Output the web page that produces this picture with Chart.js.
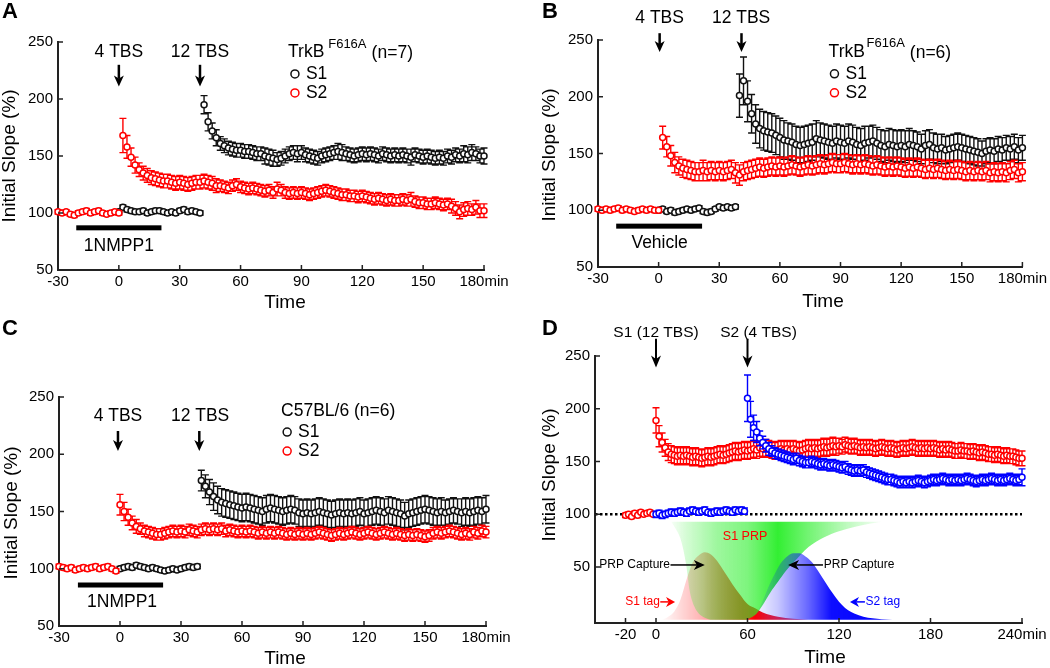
<!DOCTYPE html>
<html lang="en">
<head>
<meta charset="UTF-8" />
<title>Initial slope after TBS</title>
<script src="https://cdn.jsdelivr.net/npm/chart.js@4.4.1/dist/chart.umd.min.js"></script>
<style>
  body { margin: 0; background: #fff; }
  #wrap { position: relative; width: 1050px; height: 668px; }
  #wrap canvas { position: absolute; }
</style>
</head>
<body>
<div id="wrap">
  <canvas id="chartA" width="525" height="316" style="left:0;top:0"></canvas>
  <canvas id="chartB" width="525" height="316" style="left:525px;top:0"></canvas>
  <canvas id="chartC" width="525" height="352" style="left:0;top:316px"></canvas>
  <canvas id="chartD" width="525" height="352" style="left:525px;top:316px"></canvas>
</div>

<script>
// sampling interval of all traces, in min
const sampleMin = 2;

// ---- A: TrkB F616A + 1NMPP1 ----
const aS2Start = -30;
const aS2 = [
  101,100,101,99,98,100,101,102,100,101,
  102,100,99,100,101,100,168,158,149,142,
  138,135,133,131,130,129,128,128,127,126,
  127,126,125,126,127,127,128,127,126,124,
  124,123,122,124,125,123,122,121,122,121,
  120,119,120,118,121,120,118,117,118,117,
  118,117,116,117,118,119,120,119,118,117,
  116,116,115,115,114,115,114,113,112,113,
  112,111,112,111,111,112,111,112,110,109,
  109,108,108,109,108,107,108,106,104,101,
  103,104,103,105,102,102];
const aS2Err = [
  2,2,2,2,2,2,2,2,2,2,
  2,2,2,2,2,2,15,10,8,7,
  6,6,6,6,6,6,6,6,6,6,
  6,6,6,6,6,6,6,6,6,6,
  5,5,5,5,5,5,5,5,5,5,
  5,5,5,5,6,5,5,5,5,5,
  5,5,5,5,5,5,5,5,5,5,
  5,5,5,5,5,5,5,5,5,5,
  5,5,5,5,5,5,5,6,5,5,
  5,5,5,5,5,5,5,6,6,6,
  6,6,5,6,6,6];
const aS1Start = 0;
const aS1 = [
  101,105,103,102,101,101,102,100,101,102,
  102,101,100,101,100,102,103,101,102,101,
  100,195,180,172,166,161,159,157,156,155,
  155,154,154,153,152,152,150,149,148,147,
  148,150,152,153,152,153,151,150,149,148,
  150,151,152,153,154,153,152,151,150,151,
  152,151,152,151,150,152,151,150,151,150,
  151,150,149,151,150,149,150,149,148,149,
  148,150,149,151,150,152,151,153,152,150,
  150];
const aS1Err = [
  2,2,2,2,2,2,2,2,2,2,
  2,2,2,2,2,2,2,2,2,2,
  2,8,8,7,7,6,6,6,6,6,
  6,6,6,6,6,6,7,7,7,6,
  6,6,6,6,7,6,6,6,6,6,
  6,6,6,6,7,7,6,6,6,6,
  6,6,6,6,6,6,6,6,6,6,
  6,6,7,6,6,6,6,6,6,6,
  6,6,6,6,6,7,7,7,6,6,
  7];

// ---- B: TrkB F616A + vehicle ----
const bS2Start = -30;
const bS2 = [
  101,100,101,100,101,102,100,101,100,99,
  100,101,100,101,100,100,164,156,148,142,
  139,137,136,135,134,134,135,134,135,134,
  135,134,135,136,133,131,134,135,136,137,
  138,137,138,139,138,139,138,139,140,139,
  138,139,140,139,140,141,140,141,142,141,
  141,142,141,140,141,140,141,140,139,140,
  139,138,139,138,139,138,137,138,137,138,
  137,136,137,136,137,136,135,136,135,136,
  135,134,135,134,135,134,135,133,134,133,
  134,133,135,136,133,134];
const bS2Err = [
  2,2,2,2,2,2,2,2,2,2,
  2,2,2,2,2,2,10,9,9,9,
  8,8,8,8,8,8,9,8,8,8,
  8,8,8,8,9,9,8,8,8,8,
  8,8,8,8,8,8,8,8,8,8,
  8,8,8,8,8,8,8,8,8,8,
  8,8,8,8,8,8,8,8,8,8,
  8,8,8,8,8,8,8,8,8,8,
  8,8,8,8,8,8,8,8,8,8,
  8,8,8,8,8,8,8,8,8,8,
  8,8,8,8,8,8];
const bS1Start = 0;
const bS1 = [
  100,101,99,100,98,99,100,101,100,101,
  102,99,98,99,101,103,102,103,102,103,
  201,214,196,185,176,172,170,169,168,166,
  164,162,161,160,158,157,158,159,160,163,
  162,161,160,159,161,160,159,161,160,158,
  157,159,160,161,159,157,156,158,157,156,
  157,156,158,157,156,154,157,158,155,154,
  155,153,154,155,156,155,154,153,152,151,
  150,152,153,152,154,153,155,154,156,153,
  155];
const bS1Err = [
  2,2,2,2,2,2,2,2,2,2,
  2,2,2,2,2,2,2,2,2,2,
  19,21,18,17,17,17,17,17,17,17,
  17,17,16,16,16,16,16,16,16,16,
  15,15,15,15,15,15,15,15,15,15,
  15,15,14,14,14,14,14,14,14,14,
  14,14,14,13,13,13,13,13,13,13,
  12,12,12,12,12,12,12,12,12,12,
  11,11,11,11,11,11,11,11,11,11,
  11];

// ---- C: C57BL/6 + 1NMPP1 ----
const cS2Start = -30;
const cS2 = [
  102,101,100,101,99,100,101,100,101,102,
  100,101,102,100,98,156,150,145,140,137,
  135,133,132,131,130,130,131,132,133,132,
  133,132,134,133,132,134,135,134,135,134,
  135,133,134,133,132,133,132,133,132,131,
  132,131,132,131,132,131,130,131,130,131,
  130,131,130,131,132,131,130,129,130,131,
  130,131,132,131,130,131,132,131,130,131,
  132,131,130,131,130,129,130,129,130,129,
  128,129,131,132,131,132,133,132,131,130,
  131,130,132,131,133,132];
const cS2Err = [
  2,2,2,2,2,2,2,2,2,2,
  2,2,2,2,2,9,8,7,6,6,
  5,5,5,5,5,5,5,5,5,5,
  5,5,5,5,5,5,5,5,5,5,
  5,5,5,5,5,5,5,5,5,5,
  5,5,5,5,5,5,5,5,5,5,
  5,5,5,5,5,5,5,5,5,5,
  5,5,5,5,5,5,5,5,5,5,
  5,5,5,5,5,5,5,5,5,5,
  5,5,5,5,5,5,5,5,5,5,
  5,5,5,5,5,5];
const cS1Start = 0;
const cS1 = [
  100,101,102,101,103,102,101,100,101,100,
  99,98,99,100,99,100,101,102,101,102,
  177,172,167,163,160,158,157,156,155,154,
  153,154,153,152,151,150,152,153,152,151,
  150,151,152,151,149,148,149,148,149,150,
  149,148,147,148,149,148,149,148,149,150,
  148,149,150,151,150,149,151,150,149,148,
  146,148,149,150,151,152,151,150,149,150,
  149,150,151,150,149,150,149,150,151,150,
  152];
const cS1Err = [
  2,2,2,2,2,2,2,2,2,2,
  2,2,2,2,2,2,2,2,2,2,
  9,10,11,12,12,12,12,12,12,12,
  12,12,12,12,12,12,12,12,12,12,
  12,12,12,12,12,12,12,12,12,12,
  12,12,12,12,12,12,12,12,12,12,
  12,12,12,12,12,12,12,12,12,12,
  12,12,12,12,12,12,12,12,12,12,
  11,11,11,11,12,12,12,12,12,12,
  12];

// ---- D: S1 12 TBS, S2 4 TBS, no drug ----
const dS1Start = -20;
const dS1 = [
  99,100,98,101,99,102,100,101,102,100,
  189,174,168,163,159,157,156,155,156,155,
  156,155,154,155,154,153,154,155,154,155,
  156,157,156,157,158,159,160,159,160,161,
  160,161,162,161,163,162,163,162,161,160,
  161,162,161,162,161,162,161,160,161,162,
  163,162,163,162,163,164,163,164,165,164,
  165,164,166,165,164,165,164,163,164,163,
  164,163,162,163,164,163,162,163,162,161,
  162,163,162,163,164,163,162,163,162,163,
  162,163,162,161,162,161,162,161,160,160,
  161,160,160,159,160,159,158,159,158,157,
  157,156,157,156,155,156,155,155,154,153,
  153];
const dS1Err = [
  2,2,2,2,2,2,2,2,2,2,
  12,10,9,8,8,8,8,8,8,8,
  8,8,8,8,8,8,8,8,8,8,
  8,8,8,8,8,8,8,8,8,8,
  8,8,8,8,8,8,8,8,8,8,
  8,8,8,8,8,8,8,8,8,8,
  8,8,8,8,8,8,8,8,8,8,
  7,7,7,7,7,7,7,7,7,7,
  7,7,7,7,7,7,7,7,7,7,
  7,7,7,7,7,7,7,7,7,7,
  7,7,7,7,7,7,7,7,7,7,
  7,7,7,7,7,7,7,7,7,7,
  7,7,7,7,7,7,7,7,7,7,
  7];
const dS2Start = 0;
const dS2 = [
  100,101,99,100,101,102,101,102,103,102,
  101,103,104,103,102,103,104,102,101,102,
  103,102,103,104,103,102,104,103,104,103,
  210,190,182,178,172,168,165,162,160,158,
  157,156,155,154,153,152,153,151,150,149,
  149,150,149,148,147,148,147,146,147,146,
  145,144,145,143,142,141,142,141,142,140,
  139,138,137,136,135,134,133,133,132,131,
  130,131,130,131,130,131,132,131,130,131,
  132,133,132,133,134,133,132,133,132,133,
  132,133,134,133,132,131,132,133,132,133,
  134,133,132,133,132,133,134,133,132,133,
  135];
const dS2Err = [
  3,3,3,3,3,3,3,3,3,3,
  3,3,3,3,3,3,3,3,3,3,
  3,3,3,3,3,3,3,3,3,3,
  22,17,12,10,7,6,6,6,5,5,
  5,5,5,5,5,5,5,5,5,5,
  5,5,5,5,5,5,5,5,5,5,
  5,5,5,5,5,5,5,5,5,5,
  5,5,5,5,5,5,5,5,5,5,
  5,5,5,5,5,5,5,5,5,5,
  5,5,5,5,5,5,5,5,5,5,
  5,5,5,5,5,5,5,5,5,5,
  5,5,5,5,5,5,5,5,5,5,
  8];
const dBaseline = 100;

// schematic curves in D (time in min, value in % units)
const prpTimes = [10,13,16,18,20,22,25,28,32,37,45,52,58,62,66,70,75,80,85,90,95,100,110,120,130,140,148];
const prpLower = [93,86,77,66,50,28,13,6,2,0,0,0,0,2,6,14,26,36,46,54,62,69,78,84,88,91,93];
const prpUpper = [93,93,93,93,93,93,93,93,93,93,93,93,93,93,93,93,93,93,93,93,93,93,93,93,93,93,93];
const tagS1Times = [4,8,12,16,20,24,28,32,36,40,45,50,55,60,65,70,80,90,100];
const tagS1 = [0,3,8,19,38,54,61,64,62,56,45,34,24,15,11,7,3,1,0];
const tagS2Times = [62,66,70,74,78,82,86,90,94,98,102,106,110,114,118,122,126,130,136,142,148,155];
const tagS2 = [0,6,18,32,44,54,60,63,63,60,55,47,38,29,21,14,9,6,3,1.5,0.5,0];

const xTicksABC = [-30, 0, 30, 60, 90, 120, 150, 180];
const xTicksD = [-20, 0, 60, 120, 180, 240];
const yTicks = [50, 100, 150, 200, 250];

const RED = '#ff0000', BLUE = '#0000ff', BLACK = '#111111', AXIS = '#222222';
const FAMILY = '"Liberation Sans", Arial, Helvetica, sans-serif';
const font = (size, bold) => (bold ? 'bold ' : '') + size + 'px ' + FAMILY;

function trace(start, vals) {
  return vals.map((v, i) => ({ x: start + i * sampleMin, y: v }));
}
function curve(times, vals) {
  return vals.map((v, i) => ({ x: times[i], y: v }));
}

function pointSet(color, start, vals, errs) {
  return {
    data: trace(start, vals),
    errors: errs,
    showLine: false,
    clip: false,
    borderColor: color,
    backgroundColor: '#fff',
    pointBackgroundColor: '#fff',
    pointBorderColor: color,
    pointBorderWidth: 1.5,
    pointRadius: 3,
    pointHoverRadius: 3
  };
}

// horizontal gradient fill built on the x scale
function hGradient(stops, rgb) {
  return (context) => {
    const { chart } = context;
    const { ctx, chartArea, scales } = chart;
    if (!chartArea) return 'rgba(' + rgb + ',0.5)';
    const t0 = stops[0][0], t1 = stops[stops.length - 1][0];
    const g = ctx.createLinearGradient(scales.x.getPixelForValue(t0), 0, scales.x.getPixelForValue(t1), 0);
    stops.forEach(([t, a]) => g.addColorStop((t - t0) / (t1 - t0), 'rgba(' + rgb + ',' + a + ')'));
    return g;
  };
}

function arrow(ctx, x1, y1, x2, y2, color, lw, len, half) {
  const ang = Math.atan2(y2 - y1, x2 - x1);
  const c = Math.cos(ang), s = Math.sin(ang);
  ctx.strokeStyle = color;
  ctx.fillStyle = color;
  ctx.lineWidth = lw;
  ctx.beginPath();
  ctx.moveTo(x1, y1);
  ctx.lineTo(x2 - c * len * 0.7, y2 - s * len * 0.7);
  ctx.stroke();
  const bx = x2 - c * len, by = y2 - s * len;
  ctx.beginPath();
  ctx.moveTo(x2, y2);
  ctx.lineTo(bx - s * half, by + c * half);
  ctx.lineTo(x2 - c * len * 0.72, y2 - s * len * 0.72);
  ctx.lineTo(bx + s * half, by - c * half);
  ctx.closePath();
  ctx.fill();
}

function decor(spec) {
  return {
    id: 'decor',
    beforeDatasetDraw(chart, args) {
      const ds = chart.data.datasets[args.index];
      if (!ds.errors) return;
      const { ctx, scales: { x, y } } = chart;
      ctx.save();
      ctx.strokeStyle = ds.borderColor;
      ctx.lineWidth = 1.4;
      ctx.beginPath();
      ds.data.forEach((p, i) => {
        const e = ds.errors[i] || 0;
        const px = x.getPixelForValue(p.x);
        const hi = y.getPixelForValue(p.y + e);
        const lo = y.getPixelForValue(p.y - e);
        ctx.moveTo(px, hi); ctx.lineTo(px, lo);
        ctx.moveTo(px - 3.5, hi); ctx.lineTo(px + 3.5, hi);
        ctx.moveTo(px - 3.5, lo); ctx.lineTo(px + 3.5, lo);
      });
      ctx.stroke();
      ctx.restore();
    },
    afterDraw(chart) {
      const { ctx, chartArea: a, scales: { x, y } } = chart;
      const X = (t) => x.getPixelForValue(t);
      const Y = (v) => y.getPixelForValue(v);
      ctx.save();

      // inward tick marks
      ctx.strokeStyle = AXIS;
      ctx.lineWidth = 1.5;
      ctx.beginPath();
      x.ticks.forEach((tk) => { const px = X(tk.value); ctx.moveTo(px, a.bottom); ctx.lineTo(px, a.bottom - 5); });
      y.ticks.forEach((tk) => { const py = Y(tk.value); ctx.moveTo(a.left, py); ctx.lineTo(a.left + 5, py); });
      ctx.stroke();

      ctx.textBaseline = 'middle';
      ctx.fillStyle = '#000';

      // panel letter
      ctx.font = font(22, true);
      ctx.textAlign = 'left';
      ctx.fillText(spec.letter.text, spec.letter.x, spec.letter.y);

      // axis titles
      ctx.font = font(19);
      ctx.textAlign = 'center';
      ctx.fillText('Time', spec.xTitle.x, spec.xTitle.y);
      ctx.save();
      ctx.translate(spec.yTitle.x, spec.yTitle.y);
      ctx.rotate(-Math.PI / 2);
      ctx.fillText('Initial Slope (%)', 0, 0);
      ctx.restore();

      (spec.bars || []).forEach((b) => {
        ctx.fillStyle = '#000';
        ctx.fillRect(X(b.t1), Y(b.v) - 2.5, X(b.t2) - X(b.t1), 5);
      });

      (spec.markers || []).forEach((m) => {
        ctx.beginPath();
        ctx.arc(X(m.t), Y(m.v), 4, 0, Math.PI * 2);
        ctx.fillStyle = '#fff';
        ctx.fill();
        ctx.lineWidth = 1.5;
        ctx.strokeStyle = m.color;
        ctx.stroke();
      });

      (spec.texts || []).forEach((tx) => {
        ctx.font = font(tx.size || 17.5);
        ctx.textAlign = tx.align || 'center';
        ctx.fillStyle = tx.color || '#000';
        ctx.fillText(tx.text, X(tx.t), Y(tx.v));
      });

      (spec.downArrows || []).forEach((d) => {
        arrow(ctx, X(d.t), Y(d.v1), X(d.t), Y(d.v2), '#000', d.lw || 2.5, d.len || 11, 5);
      });

      (spec.sideArrows || []).forEach((h) => {
        arrow(ctx, X(h.t1), Y(h.v), X(h.t2), Y(h.v), h.color, 1.5, h.len || 11, 5);
      });

      ctx.restore();
    }
  };
}

function buildChart(id, spec) {
  const canvas = document.getElementById(id);
  const W = canvas.width, H = canvas.height, a = spec.area;
  const tickFont = { family: FAMILY, size: 15 };
  return new Chart(canvas, {
    type: 'line',
    data: { datasets: spec.datasets },
    options: {
      responsive: false,
      animation: false,
      devicePixelRatio: 1,
      events: [],
      layout: { padding: { top: a.top, right: W - a.right, left: 0, bottom: 0 } },
      plugins: { legend: { display: false }, tooltip: { enabled: false } },
      scales: {
        x: {
          type: 'linear',
          min: spec.xMin,
          max: spec.xMax,
          afterFit: (s) => { s.height = H - a.bottom; },
          afterBuildTicks: (s) => { s.ticks = spec.xTicks.map((v) => ({ value: v })); },
          grid: { display: false, drawTicks: false },
          border: { color: AXIS, width: 2 },
          ticks: {
            padding: 3, color: '#000', font: tickFont, maxRotation: 0, autoSkip: false,
            callback: (v) => (v === spec.xMax ? v + 'min' : String(v))
          }
        },
        y: {
          type: 'linear',
          min: spec.yMin,
          max: 250,
          afterFit: (s) => { s.width = a.left; },
          afterBuildTicks: (s) => { s.ticks = yTicks.map((v) => ({ value: v })); },
          grid: { display: false, drawTicks: false },
          border: { color: AXIS, width: 2 },
          ticks: { padding: 5, color: '#000', font: tickFont }
        }
      }
    },
    plugins: [decor(spec)]
  });
}

buildChart('chartA', {
  area: { left: 58, right: 484, top: 42, bottom: 270 },
  xMin: -30, xMax: 180, yMin: 50, xTicks: xTicksABC,
  datasets: [pointSet(RED, aS2Start, aS2, aS2Err), pointSet(BLACK, aS1Start, aS1, aS1Err)],
  letter: { text: 'A', x: 2, y: 12 },
  xTitle: { x: 285, y: 303 },
  yTitle: { x: 10, y: 156 },
  texts: [
    { text: '4 TBS', t: 0, v: 241 },
    { text: '12 TBS', t: 40, v: 241 },
    { text: 'TrkB', t: 83.4, v: 240.8, align: 'left' },
    { text: 'F616A', t: 103.2, v: 248.2, align: 'left', size: 13 },
    { text: '(n=7)', t: 124.6, v: 240, align: 'left' },
    { text: 'S1', t: 92.2, v: 222, align: 'left' },
    { text: 'S2', t: 92.2, v: 205.3, align: 'left' },
    { text: '1NMPP1', t: 0, v: 71 }
  ],
  markers: [{ t: 86.8, v: 222, color: BLACK }, { t: 86.8, v: 205.3, color: RED }],
  bars: [{ t1: -21, t2: 21, v: 87 }],
  downArrows: [{ t: 0, v1: 230, v2: 211 }, { t: 40, v1: 230, v2: 211 }]
});

buildChart('chartB', {
  area: { left: 73, right: 500, top: 40, bottom: 267 },
  xMin: -30, xMax: 180, yMin: 50, xTicks: xTicksABC,
  datasets: [pointSet(RED, bS2Start, bS2, bS2Err), pointSet(BLACK, bS1Start, bS1, bS1Err)],
  letter: { text: 'B', x: 17, y: 12 },
  xTitle: { x: 298, y: 302 },
  yTitle: { x: 25, y: 155 },
  texts: [
    { text: '4 TBS', t: 0.5, v: 269.3 },
    { text: '12 TBS', t: 40.8, v: 269.3 },
    { text: 'TrkB', t: 84.1, v: 239, align: 'left' },
    { text: 'F616A', t: 102.9, v: 246.7, align: 'left', size: 13 },
    { text: '(n=6)', t: 124.3, v: 238.3, align: 'left' },
    { text: 'S1', t: 92.5, v: 220.2, align: 'left' },
    { text: 'S2', t: 92.5, v: 203.5, align: 'left' },
    { text: 'Vehicle', t: 0.5, v: 71 }
  ],
  markers: [{ t: 87, v: 220.2, color: BLACK }, { t: 87, v: 203.5, color: RED }],
  bars: [{ t1: -21, t2: 21.5, v: 86 }],
  downArrows: [{ t: 0.5, v1: 256, v2: 239.5 }, { t: 41, v1: 256, v2: 239.5 }]
});

buildChart('chartC', {
  area: { left: 59, right: 486, top: 81, bottom: 310 },
  xMin: -30, xMax: 180, yMin: 50, xTicks: xTicksABC,
  datasets: [pointSet(RED, cS2Start, cS2, cS2Err), pointSet(BLACK, cS1Start, cS1, cS1Err)],
  letter: { text: 'C', x: 2, y: 13 },
  xTitle: { x: 285, y: 343 },
  yTitle: { x: 12, y: 197 },
  texts: [
    { text: '4 TBS', t: -1, v: 233.4 },
    { text: '12 TBS', t: 39.4, v: 233.4 },
    { text: 'C57BL/6 (n=6)', t: 79.2, v: 237.8, align: 'left' },
    { text: 'S1', t: 87.6, v: 219.4, align: 'left' },
    { text: 'S2', t: 87.6, v: 202.8, align: 'left' },
    { text: '1NMPP1', t: 1, v: 71 }
  ],
  markers: [{ t: 82.2, v: 219.4, color: BLACK }, { t: 82.2, v: 202.8, color: RED }],
  bars: [{ t1: -20.7, t2: 21.2, v: 85.8 }],
  downArrows: [{ t: -1, v1: 220.3, v2: 202.8 }, { t: 39, v1: 220.3, v2: 202.8 }]
});

buildChart('chartD', {
  area: { left: 70, right: 497, top: 40, bottom: 307 },
  xMin: -40, xMax: 240, yMin: -3, xTicks: xTicksD,
  datasets: [
    pointSet(BLUE, dS2Start, dS2, dS2Err),
    pointSet(RED, dS1Start, dS1, dS1Err),
    {
      data: [{ x: -40, y: dBaseline }, { x: 240, y: dBaseline }],
      borderColor: '#000', borderWidth: 2.5, borderDash: [2.5, 2.5], pointRadius: 0, fill: false
    },
    {
      data: curve(tagS2Times, tagS2), cubicInterpolationMode: 'monotone', borderWidth: 0, pointRadius: 0,
      fill: 'origin', backgroundColor: hGradient([[62, 0], [80, 0.22], [100, 0.6], [115, 0.95], [155, 1]], '0,0,255')
    },
    {
      data: curve(prpTimes, prpUpper), borderWidth: 0, pointRadius: 0,
      fill: '+1',
      backgroundColor: hGradient([[10, 0.04], [20, 0.2], [40, 0.45], [60, 0.6], [80, 0.95], [100, 0.65], [125, 0.3], [148, 0.04]], '40,238,40')
    },
    { data: curve(prpTimes, prpLower), cubicInterpolationMode: 'monotone', borderWidth: 0, pointRadius: 0, fill: false },
    {
      data: curve(tagS1Times, tagS1), cubicInterpolationMode: 'monotone', borderWidth: 0, pointRadius: 0,
      fill: 'origin', backgroundColor: hGradient([[4, 0.02], [30, 0.3], [55, 0.85], [65, 1], [100, 0.6]], '255,0,0')
    }
  ],
  letter: { text: 'D', x: 17, y: 13 },
  xTitle: { x: 300, y: 342 },
  yTitle: { x: 25, y: 159 },
  texts: [
    { text: 'S1 (12 TBS)', t: 0, v: 272, size: 15.5 },
    { text: 'S2 (4 TBS)', t: 67.2, v: 272, size: 15.5 },
    { text: 'S1 PRP', t: 58.4, v: 78.7, size: 12.5, color: RED },
    { text: 'PRP Capture', t: 9.2, v: 52, size: 12, align: 'right' },
    { text: 'PRP Capture', t: 110, v: 52, size: 12, align: 'left' },
    { text: 'S1 tag', t: 2.6, v: 17, size: 12, align: 'right', color: RED },
    { text: 'S2 tag', t: 137.3, v: 17, size: 12, align: 'left', color: BLUE }
  ],
  downArrows: [{ t: 0, v1: 266.4, v2: 239, lw: 2, len: 12 }, { t: 60, v1: 266.4, v2: 239, lw: 2, len: 12 }],
  sideArrows: [
    { t1: 9.5, t2: 32, v: 52, color: '#000' },
    { t1: 109.5, t2: 86.6, v: 52, color: '#000' },
    { t1: 2.8, t2: 12.5, v: 17, color: RED, len: 9 },
    { t1: 137, t2: 127.2, v: 17, color: BLUE, len: 9 }
  ]
});
</script>
</body>
</html>
